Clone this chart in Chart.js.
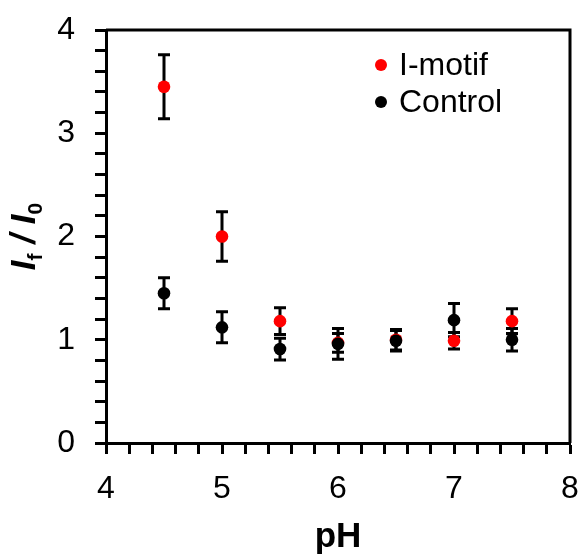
<!DOCTYPE html>
<html>
<head>
<meta charset="utf-8">
<script src="https://cdn.jsdelivr.net/npm/chart.js@4.4.0/dist/chart.umd.min.js"></script>
<style>
  body { margin: 0; background: #fff; }
</style>
</head>
<body>
<canvas id="myChart" width="582" height="558"></canvas>
<script>
// values
var phValues = [4.5, 5, 5.5, 6, 6.5, 7, 7.5];
var imotifValues = [3.45, 2.0, 1.18, 0.97, 1.0, 0.99, 1.18];
var imotifErrors = [0.31, 0.24, 0.13, 0.09, 0.1, 0.08, 0.12];
var controlValues = [1.45, 1.12, 0.91, 0.96, 0.99, 1.19, 1.0];
var controlErrors = [0.15, 0.15, 0.105, 0.15, 0.1, 0.16, 0.11];
var xTickLabels = [4, 5, 6, 7, 8];
var yTickLabels = [0, 1, 2, 3, 4];

var FONT = "'Liberation Sans', Arial, sans-serif";

function toPoints(xs, ys) {
    return xs.map(function (x, i) { return { x: x, y: ys[i] }; });
}

// error bars go under all markers, like the original
var errorBars = {
    id: 'errorBars',
    beforeDatasetsDraw: function (chart) {
        var c = chart.ctx;
        var xs = chart.scales.x, ys = chart.scales.y;
        c.save();
        c.strokeStyle = '#000';
        c.lineWidth = 3;
        chart.data.datasets.forEach(function (ds) {
            ds.data.forEach(function (p, i) {
                var e = ds.errors[i];
                var px = xs.getPixelForValue(p.x);
                var top = ys.getPixelForValue(p.y + e);
                var bot = ys.getPixelForValue(p.y - e);
                c.beginPath();
                c.moveTo(px, top); c.lineTo(px, bot);
                c.moveTo(px - 6, top); c.lineTo(px + 6, top);
                c.moveTo(px - 6, bot); c.lineTo(px + 6, bot);
                c.stroke();
            });
        });
        c.restore();
    }
};

// box frame, y title with subscripts, legend
var extras = {
    id: 'extras',
    afterDraw: function (chart) {
        var c = chart.ctx;
        var a = chart.chartArea;
        c.save();
        c.strokeStyle = '#000';
        c.lineWidth = 3;
        c.beginPath();
        c.moveTo(a.left, a.top); c.lineTo(a.right, a.top); c.lineTo(a.right, a.bottom);
        c.stroke();

        // y axis title: I_f / I_0
        var parts = [
            { t: 'I', f: 'italic bold 35px ' + FONT, dy: 0 },
            { t: 'f', f: 'bold 21px ' + FONT, dy: 7 },
            { t: ' / ', f: 'italic bold 35px ' + FONT, dy: 0 },
            { t: 'I', f: 'italic bold 35px ' + FONT, dy: 0 },
            { t: '0', f: 'bold 21px ' + FONT, dy: 7 }
        ];
        var total = 0;
        parts.forEach(function (p) { c.font = p.f; p.w = c.measureText(p.t).width; total += p.w; });
        c.translate(22, (a.top + a.bottom) / 2);
        c.rotate(-Math.PI / 2);
        c.fillStyle = '#000';
        c.textBaseline = 'alphabetic';
        var x = -total / 2;
        parts.forEach(function (p) {
            c.font = p.f;
            c.fillText(p.t, x, 13 + p.dy);
            x += p.w;
        });
        c.restore();

        // legend
        c.save();
        chart.data.datasets.forEach(function (ds, i) {
            var y = 65 + i * 37;
            c.fillStyle = ds.backgroundColor;
            c.beginPath();
            c.arc(381, y, 6, 0, Math.PI * 2);
            c.fill();
            c.fillStyle = '#000';
            c.font = '32px ' + FONT;
            c.textBaseline = 'middle';
            c.textAlign = 'left';
            c.fillText(ds.label, 399, y + 1);
        });
        c.restore();
    }
};

function isLabel(v, list) {
    var r = Math.round(v * 1000) / 1000;
    return list.indexOf(r) >= 0 ? String(r) : '';
}

// fixed axis sizes, no label overhang padding
function fixSize(prop, size) {
    return function (s) {
        s[prop] = size;
        s.paddingLeft = 0; s.paddingRight = 0;
        s.paddingTop = 0; s.paddingBottom = 0;
    };
}

var ctx = document.getElementById('myChart').getContext('2d');

var myChart = new Chart(ctx, {
    type: 'scatter',
    data: {
        datasets: [{
            label: 'I-motif',
            data: toPoints(phValues, imotifValues),
            errors: imotifErrors,
            backgroundColor: '#ff0000',
            borderColor: '#ff0000',
            pointRadius: 6.3,
            borderWidth: 0,
            order: 1
        }, {
            label: 'Control',
            data: toPoints(phValues, controlValues),
            errors: controlErrors,
            backgroundColor: '#000000',
            borderColor: '#000000',
            pointRadius: 6.3,
            borderWidth: 0,
            order: 0
        }]
    },
    options: {
        responsive: false,
        animation: false,
        devicePixelRatio: 1,
        layout: { padding: { left: 0, top: 30, right: 12, bottom: 0 } },
        plugins: {
            legend: { display: false },
            tooltip: { enabled: false }
        },
        scales: {
            x: {
                type: 'linear',
                min: 4, max: 8,
                afterFit: fixSize('height', 115),
                border: { color: '#000', width: 3 },
                grid: { drawOnChartArea: false, color: '#000', tickLength: 11, tickWidth: 3 },
                ticks: {
                    stepSize: 0.2,
                    autoSkip: false,
                    maxRotation: 0,
                    color: '#000',
                    padding: 16,
                    font: { family: FONT, size: 32 },
                    callback: function (v) { return isLabel(v, xTickLabels); }
                },
                title: {
                    display: true,
                    text: 'pH',
                    color: '#000',
                    padding: { top: 0, bottom: 3 },
                    font: { family: FONT, size: 35, weight: 'bold', lineHeight: 1 }
                }
            },
            y: {
                min: 0, max: 4,
                afterFit: fixSize('width', 106),
                border: { color: '#000', width: 3 },
                grid: { drawOnChartArea: false, color: '#000', tickLength: 11, tickWidth: 3 },
                ticks: {
                    stepSize: 0.2,
                    autoSkip: false,
                    color: '#000',
                    padding: 20,
                    font: { family: FONT, size: 32 },
                    callback: function (v) { return isLabel(v, yTickLabels); }
                }
            }
        }
    },
    plugins: [errorBars, extras]
});
</script>
</body>
</html>
